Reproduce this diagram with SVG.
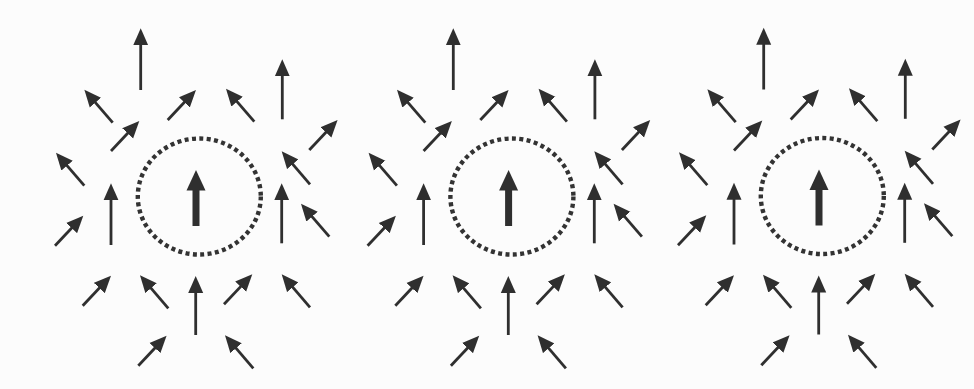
<svg xmlns="http://www.w3.org/2000/svg" xmlns:xlink="http://www.w3.org/1999/xlink" width="974" height="389" viewBox="0 0 974 389">
<style>
.a{fill:none;stroke:#2f2f2f;stroke-width:2.8;stroke-linecap:butt;marker-end:url(#ah)}
.ring{fill:none;stroke:#333;stroke-width:4.4;stroke-dasharray:4 3.4}
.big{fill:#2f2f2f}
</style>
<defs>
<marker id="ah" markerUnits="userSpaceOnUse" markerWidth="18" markerHeight="16" refX="9" refY="8" orient="auto">
<path d="M0,0.5 L17,8 L0,15.5 z" fill="#2f2f2f"/>
</marker>
<g id="panel">
<ellipse class="ring" cx="199.3" cy="196.5" rx="61.5" ry="58"/>
<polygon class="big" points="196,170 186.5,190.5 205.5,190.5"/>
<rect class="big" x="192.5" y="189" width="7" height="37"/>
<path class="a" d="M140.7,90 V36.3"/>
<path class="a" d="M282.3,119.3 V67.3"/>
<path class="a" d="M111,245 V191.3"/>
<path class="a" d="M281.7,243.3 V191.3"/>
<path class="a" d="M195.7,335 V284"/>
<path class="a" d="M167.7,120 l22.8,-24.2"/>
<path class="a" d="M111,151 l22.8,-24.2"/>
<path class="a" d="M309.3,150 l22.8,-24.2"/>
<path class="a" d="M55,245.7 l22.8,-24.2"/>
<path class="a" d="M82.7,305.7 l22.8,-24.2"/>
<path class="a" d="M224,304.3 l22.8,-24.2"/>
<path class="a" d="M138.3,365.7 l22.8,-24.2"/>
<path class="a" d="M112.7,122.7 l-23.1,-26.9"/>
<path class="a" d="M254.3,121.7 l-23.1,-26.9"/>
<path class="a" d="M84.3,185.7 l-23.1,-26.9"/>
<path class="a" d="M310,184.3 l-23.1,-26.9"/>
<path class="a" d="M329.3,236.7 l-23.1,-26.9"/>
<path class="a" d="M168.3,308.3 l-23.1,-26.9"/>
<path class="a" d="M310,307.3 l-23.1,-26.9"/>
<path class="a" d="M253.3,368.3 l-23.1,-26.9"/>
</g>
</defs>
<rect width="974" height="389" fill="#fcfcfc"/>
<use id="panel1" xlink:href="#panel"/>
<use id="panel2" xlink:href="#panel" transform="translate(312.6,0)"/>
<use id="panel3" xlink:href="#panel" transform="translate(623,-0.5)"/>
</svg>
